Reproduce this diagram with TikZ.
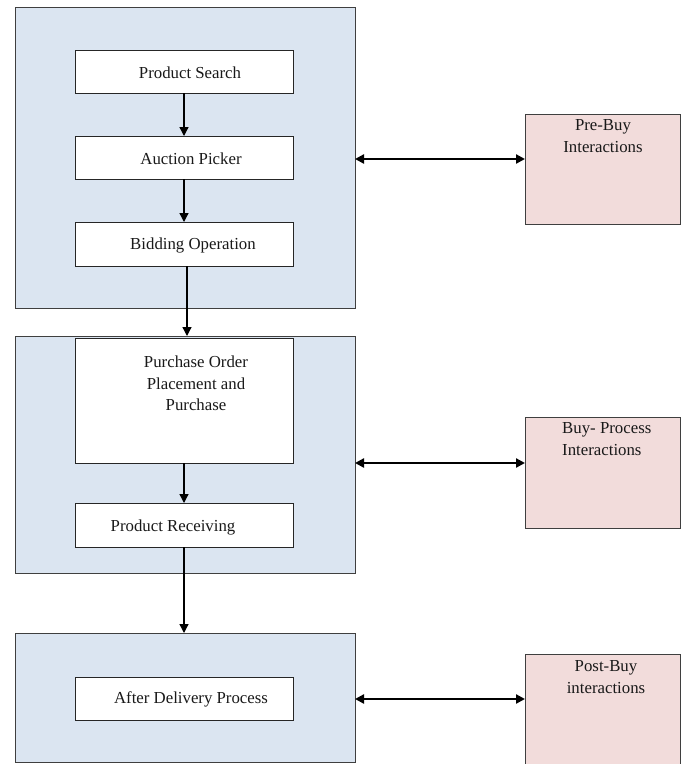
\documentclass[tikz,border=0pt]{standalone}
\usepackage{fontspec}
\setmainfont{Liberation Serif}
\usetikzlibrary{arrows.meta}
\definecolor{panelblue}{HTML}{DBE5F1}
\definecolor{panelpink}{HTML}{F2DCDB}
\definecolor{edgegray}{HTML}{3F3F3F}
\begin{document}
\begin{tikzpicture}[x=1pt,y=-1pt,
  panel/.style={draw=edgegray,line width=0.9pt,fill=panelblue,rectangle,inner sep=0pt,outer sep=0pt,minimum width=340pt},
  stepbox/.style={draw=black!85,line width=0.8pt,fill=white,rectangle,inner sep=0pt,outer sep=0pt,minimum width=218pt},
  sidebox/.style={draw=edgegray,line width=0.9pt,fill=panelpink,rectangle,inner sep=0pt,outer sep=0pt,minimum width=155pt},
  txt/.style={inner sep=0pt,font=\fontsize{16.8}{21.5}\selectfont,text=black!90},
  arr/.style={line width=1.3pt,-{Triangle[length=9pt,width=9pt]}},
  darr/.style={line width=2.2pt,{Triangle[length=9pt,width=9pt]}-{Triangle[length=9pt,width=9pt]}}]
\clip (0,0) rectangle (685,764);
\fill[white] (0,0) rectangle (685,764);
% panels
\node[panel,minimum height=301pt] (box1) at (185,157.5) {};
\node[panel,minimum height=237pt] (box2) at (185,454.5) {};
\node[panel,minimum height=129pt] (box3) at (185,697.5) {};
% steps
\node[stepbox,minimum height=43pt] (PS) at (184,71.5) {};
\node[stepbox,minimum height=43pt] (AP) at (184,157.5) {};
\node[stepbox,minimum height=44pt] (BO) at (184,244) {};
\node[stepbox,minimum height=125pt] (PO) at (184,400.5) {};
\node[stepbox,minimum height=44pt] (PR) at (184,525) {};
\node[stepbox,minimum height=43pt] (AD) at (184,698.5) {};
% side boxes
\node[sidebox,minimum height=110pt] (PB) at (602.5,169) {};
\node[sidebox,minimum height=111pt] (BP) at (602.5,472.5) {};
\node[sidebox,minimum height=120pt] (PoB) at (602.5,714) {};
% texts
\node[txt] (PSt) at (190,73) {Product Search};
\node[txt] (APt) at (191,158.5) {Auction Picker};
\node[txt] (BOt) at (193,245) {Bidding Operation};
\node[txt,align=center] (POt) at (196,383.5) {Purchase Order\\Placement and\\Purchase};
\node[txt] (PRt) at (173,527) {Product Receiving};
\node[txt] (ADt) at (191,699.5) {After Delivery Process};
\node[txt,align=center] (PBt) at (603,136) {Pre-Buy\\Interactions};
\node[txt,align=left,anchor=west] (BPt) at (562,439) {Buy- Process\\Interactions};
\node[txt,align=center] (PoBt) at (606,677) {Post-Buy\\interactions};
% flow arrows
\draw[arr] (PS.south) -- (AP.north);
\draw[arr] (AP.south) -- (BO.north);
\draw[arr] ([xshift=3pt]BO.south) -- ([xshift=3pt]BO.south |- box2.north);
\draw[arr] (PO.south) -- (PR.north);
\draw[arr] (PR.south) -- (PR.south |- box3.north);
% interaction arrows
\coordinate (c1) at ([yshift=10pt]PB.west);
\coordinate (c2) at ([yshift=9.5pt]BP.west);
\coordinate (c3) at ([yshift=15pt]PoB.west);
\draw[darr] (box1.east |- c1) -- (c1);
\draw[darr] (box2.east |- c2) -- (c2);
\draw[darr] (box3.east |- c3) -- (c3);
\end{tikzpicture}
\end{document}
